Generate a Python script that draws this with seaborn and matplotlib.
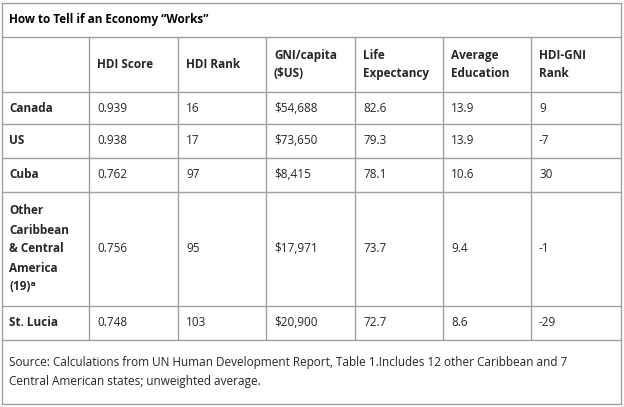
import matplotlib
matplotlib.use("Agg")
import matplotlib.pyplot as plt
import seaborn as sns

sns.set_theme(style="white")
plt.rcParams['font.family'] = ['Open Sans', 'DejaVu Sans']
plt.rcParams['text.parse_math'] = False

title = "How to Tell if an Economy \u201cWorks\u201d"
headers = ["", "HDI Score", "HDI Rank", "GNI/capita\n($US)", "Life\nExpectancy",
           "Average\nEducation", "HDI-GNI\nRank"]
countries = ["Canada", "US", "Cuba", "Other\nCaribbean\n& Central\nAmerica\n(19)\u1d43", "St. Lucia"]
hdi_score = ["0.939", "0.938", "0.762", "0.756", "0.748"]
hdi_rank = ["16", "17", "97", "95", "103"]
gni = ["$54,688", "$73,650", "$8,415", "$17,971", "$20,900"]
life = ["82.6", "79.3", "78.1", "73.7", "72.7"]
edu = ["13.9", "13.9", "10.6", "9.4", "8.6"]
hdi_gni = ["9", "-7", "30", "-1", "-29"]
source = ("Source: Calculations from UN Human Development Report, Table 1.Includes 12 other Caribbean and 7\n"
          "Central American states; unweighted average.")

# layout in pixels
col_x = [2, 89, 178, 266, 355, 443, 531, 621]
row_y = [3, 37, 92, 124, 158, 192, 306, 340, 404]
line_c = "#a0a0a0"
fs = 8.5

fig = plt.figure(figsize=(6.24, 4.07), dpi=100)
ax = fig.add_axes([0, 0, 1, 1])
ax.set_xlim(0, 624)
ax.set_ylim(407, 0)
ax.axis("off")

for y in row_y:
    ax.plot([col_x[0], col_x[-1]], [y, y], color=line_c, lw=1)
for x in (col_x[0], col_x[-1]):
    ax.plot([x, x], [row_y[0], row_y[-1]], color=line_c, lw=1)
for x in col_x[1:-1]:
    ax.plot([x, x], [row_y[1], row_y[-2]], color=line_c, lw=1)

ax.text(9, (row_y[0] + row_y[1]) / 2, title, fontsize=fs, fontweight="bold",
        va="center", ha="left", color="black")

for i, h in enumerate(headers):
    ax.text(col_x[i] + 8, (row_y[1] + row_y[2]) / 2, h, fontsize=fs, fontweight="bold",
            va="center", ha="left", linespacing=1.45)

cols = [hdi_score, hdi_rank, gni, life, edu, hdi_gni]
for r, name in enumerate(countries):
    yc = (row_y[2 + r] + row_y[3 + r]) / 2
    ax.text(col_x[0] + 7, yc, name, fontsize=fs, fontweight="bold", va="center",
            ha="left", linespacing=1.6)
    for c, vals in enumerate(cols):
        ax.text(col_x[c + 1] + 8, yc, vals[r], fontsize=fs, va="center", ha="left")

ax.text(9, (row_y[-2] + row_y[-1]) / 2, source, fontsize=fs, va="center", ha="left",
        linespacing=1.55)

fig.savefig("out.png", dpi=100, facecolor="white")
